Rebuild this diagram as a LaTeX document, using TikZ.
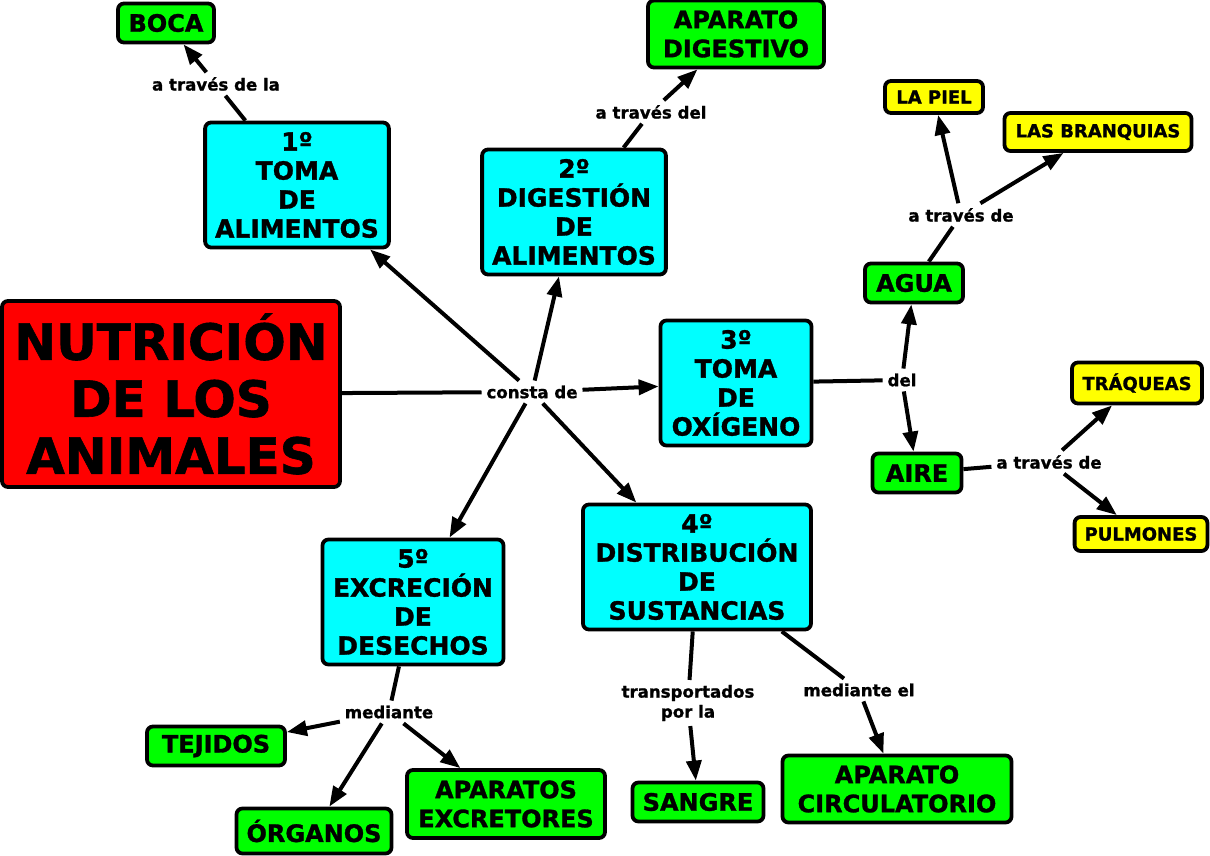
\documentclass[tikz,border=0pt]{standalone}
\usepackage{fontspec}
\setmainfont{DejaVu Sans}[BoldFeatures={FakeBold=1.2}]
\usepackage{tikz}
\usetikzlibrary{arrows.meta}

\definecolor{mapred}{RGB}{255,0,0}
\definecolor{mapcyan}{RGB}{0,255,255}
\definecolor{mapgreen}{RGB}{0,255,0}
\definecolor{mapyellow}{RGB}{255,255,0}

\begin{document}
\begin{tikzpicture}[x=0.5pt,y=-0.5pt,line width=2pt,>={Triangle[length=10pt,width=7.5pt]}]
    \tikzstyle{box}=[draw, rounded corners=3pt, line width=1.9pt, align=center, inner xsep=5pt, inner ysep=2pt]
    \tikzstyle{main}=[box, fill=mapred, font=\bfseries\fontsize{25}{28.5}\selectfont, minimum width=169pt, minimum height=93pt]
    \tikzstyle{stage}=[box, fill=mapcyan, font=\bfseries\fontsize{12.5}{14.5}\selectfont, minimum height=62.5pt]
    \tikzstyle{item}=[box, fill=mapgreen, font=\bfseries\fontsize{12}{14.5}\selectfont, minimum height=19.5pt]
    \tikzstyle{leaf}=[box, fill=mapyellow, font=\bfseries\fontsize{9}{11}\selectfont, minimum height=17pt]
    \tikzstyle{link}=[font=\bfseries\fontsize{8.3}{10}\selectfont, align=center, inner sep=1.5pt]

    \useasboundingbox (0,0) rectangle (1210,856);

    % concepts
    \node[main]                        (nut)   at (171,394) {NUTRICIÓN\\DE LOS\\ANIMALES};
    \node[stage, minimum width=90.5pt] (toma)  at (297,185) {1º\\TOMA\\DE\\ALIMENTOS};
    \node[stage, minimum width=90.5pt] (dige)  at (574,212) {2º\\DIGESTIÓN\\DE\\ALIMENTOS};
    \node[stage, minimum width=75.5pt] (oxi)   at (736,383) {3º\\TOMA\\DE\\OXÍGENO};
    \node[stage, minimum width=114pt]  (dist)  at (697,567) {4º\\DISTRIBUCIÓN\\DE\\SUSTANCIAS};
    \node[stage, minimum width=90.5pt] (excr)  at (413,602) {5º\\EXCRECIÓN\\DE\\DESECHOS};

    \node[item, minimum width=48pt]    (boca)  at (166,23)  {BOCA};
    \node[item, minimum width=88pt, minimum height=33.5pt]  (apdig) at (736,34) {APARATO\\DIGESTIVO};
    \node[item, minimum width=49pt]    (agua)  at (914,283) {AGUA};
    \node[item, minimum width=44.5pt]  (aire)  at (917,473) {AIRE};
    \node[item, minimum width=69pt]    (tej)   at (216,746) {TEJIDOS};
    \node[item, minimum width=77.5pt, minimum height=22.5pt] (org) at (314,831) {ÓRGANOS};
    \node[item, minimum width=99pt, minimum height=34pt]     (apexc) at (506,804) {APARATOS\\EXCRETORES};
    \node[item, minimum width=65.5pt]  (sangre) at (698,802) {SANGRE};
    \node[item, minimum width=114.5pt, minimum height=33.5pt] (apcir) at (897,789) {APARATO\\CIRCULATORIO};

    \node[leaf, minimum width=49pt, minimum height=16pt]   (piel)  at (934,97)   {LA PIEL};
    \node[leaf, minimum width=93.5pt, minimum height=19pt] (branq) at (1098,132) {LAS BRANQUIAS};
    \node[leaf, minimum width=65pt, minimum height=20.5pt] (traq)  at (1137,383) {TRÁQUEAS};
    \node[leaf, minimum width=65.5pt]  (pulm)  at (1141,534) {PULMONES};

    % linking phrases
    \node[link] (lboca)  at (216,84)  {a través de la};
    \node[link] (ldig)   at (651,112) {a través del};
    \node[link] (lconst) at (532,392) {consta de};
    \node[link] (ldel)   at (902,380) {del};
    \node[link] (lagua)  at (961,215) {a través de};
    \node[link] (laire)  at (1049,462) {a través de};
    \node[link] (lmed)   at (389,712) {mediante};
    \node[link] (ltrans) at (688,703) {transportados\\por la};
    \node[link] (lcirc)  at (859,690) {mediante el};

    % connectors
    \draw (nut) -- (lconst);
    \foreach \t in {toma,dige,oxi,dist,excr}
        \draw[->] (lconst) -- (\t);
    \draw (toma) -- (lboca);  \draw[->] (lboca) -- (boca);
    \draw (dige) -- (ldig);   \draw[->] (ldig) -- (apdig);
    \draw (oxi) -- (ldel);
    \draw[->] (ldel) -- (agua);
    \draw[->] (ldel) -- (aire);
    \draw (agua) -- (lagua);
    \draw[->] (lagua) -- (piel);
    \draw[->] (lagua) -- (branq);
    \draw (aire) -- (laire);
    \draw[->] (laire) -- (traq);
    \draw[->] (laire) -- (pulm);
    \draw (excr) -- (lmed);
    \foreach \t in {tej,org,apexc}
        \draw[->] (lmed) -- (\t);
    \draw (dist) -- (ltrans); \draw[->] (ltrans) -- (sangre);
    \draw (dist) -- (lcirc);  \draw[->] (lcirc) -- (apcir);
\end{tikzpicture}
\end{document}
